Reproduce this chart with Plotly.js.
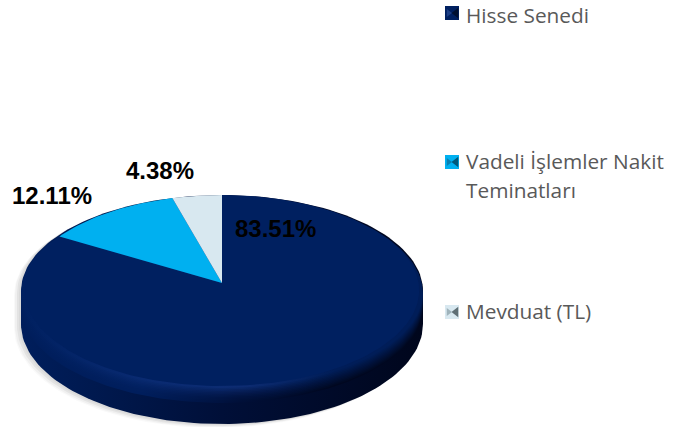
<!DOCTYPE html>
<html><head><meta charset="utf-8">
<script src="https://cdn.plot.ly/plotly-3.0.1.min.js"></script>
<style>html,body{margin:0;padding:0;background:#fff}#c{width:681px;height:427px}</style>
</head><body><div id="c"></div>
<script>
const categories = ["Hisse Senedi", "Vadeli İşlemler Nakit\nTeminatları", "Mevduat (TL)"];
const values = [83.51, 12.11, 4.38];
const sliceColors = ["#002060", "#00B0F0", "#D8E8F0"];
const labelText = values.map(v => v.toFixed(2) + "%");

// tilted-disc geometry (axes run in picture units)
const CX = 222, CY = 283, B = 196.5, A = 94.9, P = 0.0785;
const proj = (deg, dy = 0, bScale = 1) => {
  const t = deg * Math.PI / 180, u = Math.sin(t), v = Math.cos(t), w = 1 + P * v;
  return [CX + B * bScale * u / w, CY - A * v / w + dy];
};
const arc = (a0, a1, dy = 0, bScale = 1) => {
  const n = Math.max(2, Math.ceil(Math.abs(a1 - a0) / 1.5)), pts = [];
  for (let i = 0; i <= n; i++) pts.push(proj(a0 + (a1 - a0) * i / n, dy, bScale));
  return pts;
};
const poly = (pts, extra) => Object.assign({
  x: pts.map(p => p[0]), y: pts.map(p => p[1]), type: "scatter", mode: "lines",
  fill: "toself", line: { width: 0 }, hoverinfo: "skip", showlegend: false
}, extra);
const grad = stops => ({ fillgradient: { type: "horizontal", colorscale: stops } });

// outline of the disc's wall
const hull = (dx, dy) => {
  const pts = [];
  for (let f = -90; f <= 90; f += 2) { const r = f * Math.PI / 180; pts.push([222 + dx + 201 * Math.sin(r), 291 + dy - 96 * Math.cos(r)]); }
  for (let f = 90; f <= 270; f += 2) { const r = f * Math.PI / 180; pts.push([222 + dx + 201 * Math.sin(r), 324 + dy - 100 * Math.cos(r)]); }
  return pts;
};
const mix = (a, b, t) => "rgb(" + a.map((c, i) => Math.round(c + (b[i] - c) * t)).join(",") + ")";
const wallL = [0, 30, 92], wallM = [0, 15, 56], wallR = [0, 6, 28], ridge = [16, 52, 130], navy = [0, 32, 96];

const traces = [];
// soft shadow
[[-7, 4, "rgba(0,0,0,0.025)"], [-6, 3, "rgba(0,0,0,0.035)"], [-4, 2, "rgba(0,0,0,0.05)"], [-2, 1, "rgba(0,0,0,0.04)"]]
  .forEach(s => traces.push(poly(hull(s[0], s[1]), { fillcolor: s[2] })));
// wall
traces.push(poly(hull(0, 0), grad([[0, mix(wallL, wallL, 0)], [0.25, mix(wallL, wallM, 0.5)], [0.5, mix(wallM, wallM, 0)], [1, mix(wallR, wallR, 0)]])));
// bevel between wall and top face
for (let s = 17; s >= 1; s -= 1.5) {
  const t = 1 - s / 18;
  const e = t * t;
  traces.push(poly(arc(0, 360, s, 1.018), grad([
    [0, mix(wallL, navy, t)],
    [0.3, mix(wallL, ridge, e * 0.7)],
    [0.55, mix(wallM, ridge, e)],
    [0.78, mix(wallR, navy, t)],
    [1, mix(wallR, navy, t)]
  ])));
}
// slices of the top face, clockwise from twelve o'clock
const total = values.reduce((a, b) => a + b, 0);
let start = 0;
values.forEach((v, i) => {
  const end = start + v / total * 360;
  traces.push(poly([[CX, CY]].concat(arc(start, end)).concat([[CX, CY]]), {
    fillcolor: sliceColors[i], name: categories[i].replace("\n", " ")
  }));
  start = end;
});
// legend keys
const keyY = [13, 162, 312];
const textY = [14.5, 160.5, 310.5];
const keyShade = ["#1d3f86", "#0a7fb0", "#9fb3bb"];
const keyDark = ["#001030", "#00587a", "#5f6f75"];
traces.push({ x: keyY.map(() => 452), y: keyY, type: "scatter", mode: "markers", hoverinfo: "skip", showlegend: false,
  marker: { symbol: "square", size: 14, color: sliceColors, line: { width: 0 } } });
traces.push({ x: keyY.map(() => 456), y: keyY, type: "scatter", mode: "markers", hoverinfo: "skip", showlegend: false,
  marker: { symbol: "triangle-left", size: 9, color: keyDark, line: { width: 0 } } });
traces.push({ x: keyY.map(() => 448.5), y: keyY, type: "scatter", mode: "markers", hoverinfo: "skip", showlegend: false,
  marker: { symbol: "triangle-right", size: 7, color: keyShade, line: { width: 0 } } });

const ann = [];
const labelPos = [[275, 228], [52, 195], [160, 170]];
labelText.forEach((t, i) => ann.push({ x: labelPos[i][0], y: labelPos[i][1], xref: "x", yref: "y", text: t, showarrow: false,
  xanchor: "center", yanchor: "middle", font: { family: "Liberation Sans", size: 24, color: "#000", weight: 700 } }));
const legendFont = { family: "Open Sans", size: 20.8, color: "#595959" };
categories.forEach((c, i) => c.split("\n").forEach((ln, j) => ann.push({ x: 463.5, y: textY[i] + j * 29, xref: "x", yref: "y", text: ln,
  showarrow: false, xanchor: "left", yanchor: "middle", font: legendFont })));

Plotly.newPlot("c", traces, {
  width: 681, height: 427, margin: { l: 0, r: 0, t: 0, b: 0 },
  paper_bgcolor: "#fff", plot_bgcolor: "#fff", showlegend: false,
  xaxis: { range: [0, 681], visible: false, fixedrange: true },
  yaxis: { range: [427, 0], visible: false, fixedrange: true },
  annotations: ann
}, { displayModeBar: false, staticPlot: true });
</script></body></html>
